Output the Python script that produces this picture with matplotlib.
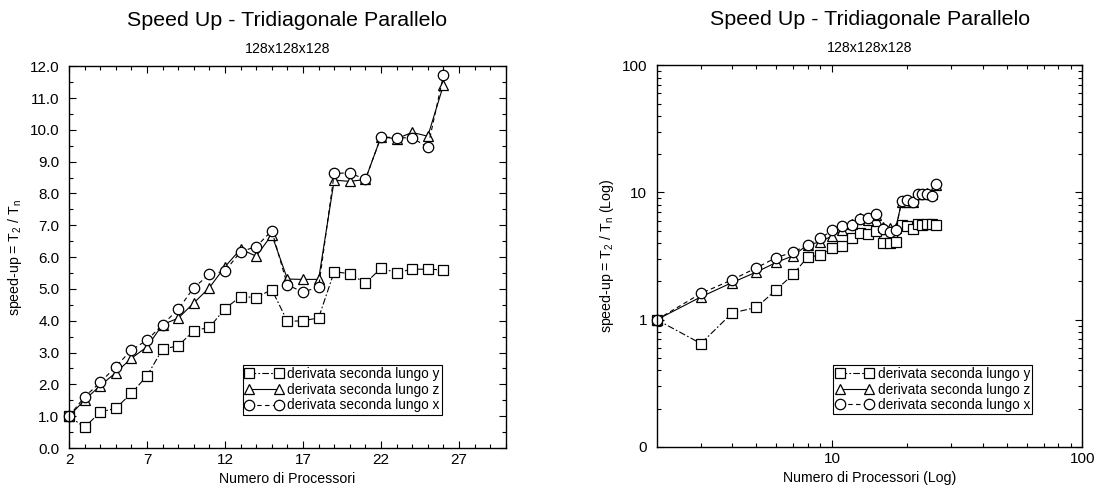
#######################################
#### Speed up plot - tridiagonale parallelo
#######################################
import matplotlib
matplotlib.use("Agg")
import matplotlib.pyplot as plt
from matplotlib.ticker import MultipleLocator, FixedLocator, NullFormatter

plt.rcParams['font.family'] = ['Liberation Sans', 'DejaVu Sans']
plt.rcParams['mathtext.fontset'] = 'custom'
plt.rcParams['mathtext.rm'] = 'Liberation Sans'

#######################################
#### Data
#######################################
procs = [2, 3, 4, 5, 6, 7, 8, 9, 10, 11, 12, 13, 14, 15, 16, 17, 18, 19, 20, 21, 22, 23, 24, 25, 26]
speed_y = [1.0, 0.65, 1.13, 1.25, 1.72, 2.27, 3.11, 3.21, 3.69, 3.79, 4.38, 4.76, 4.73, 4.98,
           3.98, 4.0, 4.09, 5.54, 5.48, 5.18, 5.65, 5.51, 5.62, 5.62, 5.60]
speed_z = [1.0, 1.51, 1.96, 2.37, 2.82, 3.18, 3.88, 4.08, 4.56, 5.04, 5.70, 6.25, 6.03, 6.70,
           5.31, 5.30, 5.30, 8.42, 8.38, 8.44, 9.78, 9.72, 9.92, 9.80, 11.40]
speed_x = [1.0, 1.61, 2.06, 2.56, 3.08, 3.39, 3.88, 4.36, 5.04, 5.46, 5.56, 6.17, 6.33, 6.83,
           5.12, 4.91, 5.05, 8.63, 8.65, 8.44, 9.78, 9.75, 9.75, 9.45, 11.71]

labels = ['derivata seconda lungo y', 'derivata seconda lungo z', 'derivata seconda lungo x']
main_title = 'Speed Up - Tridiagonale Parallelo'
sub_title = '128x128x128'

#######################################
#### Plot
#######################################
fig = plt.figure(figsize=(11.17, 4.92), dpi=100)
ax1 = fig.add_axes([0.0618, 0.0894, 0.391, 0.776])
ax2 = fig.add_axes([0.588, 0.0915, 0.381, 0.776])

def draw_series(ax):
   mk = dict(markersize=7.5, markerfacecolor='white', markeredgecolor='black',
             markeredgewidth=0.9, color='black', linewidth=0.8, clip_on=False)
   ax.plot(procs, speed_y, marker='s', linestyle=(0, (6, 2, 1.5, 2)), label=labels[0], **mk)
   ax.plot(procs, speed_z, marker='^', linestyle='-', label=labels[1], **mk)
   ax.plot(procs, speed_x, marker='o', linestyle=(0, (4, 3)), label=labels[2], **mk)

def style_axes(ax, legx, legy):
   ax.tick_params(which='both', direction='in', top=True, right=True, labelsize=11)
   ax.tick_params(which='major', length=5, width=0.8)
   ax.tick_params(which='minor', length=3, width=0.8)
   ax.tick_params(axis='y', which='major', pad=7)
   for s in ax.spines.values():
      s.set_linewidth(1.0)
   ax.text(0.5, 1.12, main_title, transform=ax.transAxes, ha='center', va='center', fontsize=15.4)
   ax.text(0.5, 1.044, sub_title, transform=ax.transAxes, ha='center', va='center', fontsize=10.2)
   leg = ax.legend(loc='upper left', bbox_to_anchor=(legx, legy), borderaxespad=0,
                   fontsize=9.8, numpoints=2, handlelength=2.8, handletextpad=0.3,
                   borderpad=0.15, labelspacing=0.12, fancybox=False, framealpha=1)
   leg.get_frame().set_edgecolor('black')
   leg.get_frame().set_linewidth(0.8)

### Linear plot
draw_series(ax1)
ax1.set_xlim(2, 30)
ax1.set_ylim(0, 12)
ax1.set_xticks([2, 7, 12, 17, 22, 27])
ax1.xaxis.set_minor_locator(MultipleLocator(1))
ax1.set_yticks([i * 1.0 for i in range(13)])
ax1.set_yticklabels(['%.1f' % (i * 1.0) for i in range(13)])
ax1.yaxis.set_minor_locator(MultipleLocator(0.5))
ax1.set_xlabel('Numero di Processori', fontsize=10.2)
ax1.set_ylabel(r'speed-up = T$_\mathregular{2}$ / T$_\mathregular{n}$', fontsize=10.2)
style_axes(ax1, 0.398, 0.217)

### Log plot
draw_series(ax2)
ax2.set_xscale('log')
ax2.set_yscale('log')
ax2.set_xlim(2, 100)
ax2.set_ylim(0.1, 100)
ax2.set_xticks([10, 100])
ax2.set_xticklabels(['10', '100'])
ax2.xaxis.set_minor_locator(FixedLocator([3, 4, 5, 6, 7, 8, 9, 20, 30, 40, 50, 60, 70, 80, 90]))
ax2.xaxis.set_minor_formatter(NullFormatter())
ax2.set_yticks([0.1, 1, 10, 100])
ax2.set_yticklabels(['0', '1', '10', '100'])
ax2.yaxis.set_minor_locator(FixedLocator([m * d for d in (0.1, 1, 10) for m in range(2, 10)]))
ax2.yaxis.set_minor_formatter(NullFormatter())
ax2.set_xlabel('Numero di Processori (Log)', fontsize=10.2)
ax2.set_ylabel(r'speed-up = T$_\mathregular{2}$ / T$_\mathregular{n}$ (Log)', fontsize=10.2)
style_axes(ax2, 0.415, 0.215)

fig.savefig('out.png', dpi=100)
